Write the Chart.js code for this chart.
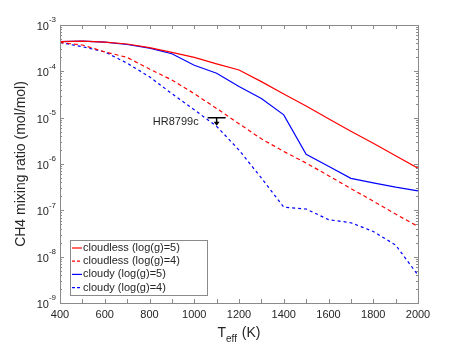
<!DOCTYPE html>
<html>
<head>
<meta charset="utf-8">
<script src="https://cdn.jsdelivr.net/npm/chart.js@4"></script>
<style>
html,body{margin:0;padding:0;background:#fff;}
canvas{display:block;}
</style>
</head>
<body>
<canvas id="c" width="463" height="345"></canvas>
<script>
// ---- data ----
const tempK = [400,500,600,700,800,900,1000,1100,1200,1300,1400,1500,1600,1700,1800,1900,2000];
const cloudlessG5 = [4.37e-4,4.47e-4,4.27e-4,3.89e-4,3.24e-4,2.57e-4,2.0e-4,1.45e-4,1.07e-4,6.0e-5,3.24e-5,1.78e-5,9.5e-6,5.1e-6,2.8e-6,1.5e-6,8.1e-7];
const cloudlessG4 = [4.17e-4,3.7e-4,2.63e-4,2.0e-4,1.12e-4,6.5e-5,3.3e-5,1.58e-5,7.4e-6,3.5e-6,1.86e-6,1.05e-6,5.6e-7,2.95e-7,1.58e-7,8.3e-8,4.5e-8];
const cloudyG5 = [4.37e-4,4.47e-4,4.27e-4,3.8e-4,3.16e-4,2.4e-4,1.35e-4,9.1e-5,4.7e-5,2.6e-5,1.15e-5,1.62e-6,8.9e-7,4.9e-7,3.9e-7,3.16e-7,2.63e-7];
const cloudyG4 = [4.17e-4,3.4e-4,2.63e-4,1.5e-4,7.6e-5,3.3e-5,1.48e-5,6.5e-6,2.0e-6,5.0e-7,1.17e-7,1.07e-7,6.3e-8,5.4e-8,3.5e-8,1.78e-8,4.0e-9];
const seriesLabels = ['cloudless (log(g)=5)','cloudless (log(g)=4)','cloudy (log(g)=5)','cloudy (log(g)=4)'];
const xTickLabels = [400,600,800,1000,1200,1400,1600,1800,2000];
const xMinorTicks = [400,500,600,700,800,900,1000,1100,1200,1300,1400,1500,1600,1700,1800,1900,2000];
const yDecadeExponents = [-9,-8,-7,-6,-5,-4,-3];
const hrName = 'HR8799c';
const hrTeff = 1100;
const hrUpperLimit = 1e-5;

const FONT = '"Liberation Sans", Arial, Helvetica, sans-serif';
const TXT = '#262626';
const AXC = '#8a8a8a';

function pts(arr){ return tempK.map((t,i)=>({x:t,y:arr[i]})); }

const styles = [
  {c:'#ff0000', d:[]},
  {c:'#ff0000', d:[4,3]},
  {c:'#0000ff', d:[]},
  {c:'#0000ff', d:[3,3]}
];
const dataArrs = [cloudlessG5, cloudlessG4, cloudyG5, cloudyG4];

const decor = {
  id:'decor',
  afterDraw(chart){
    const ctx = chart.ctx, xs = chart.scales.x, ys = chart.scales.y, a = chart.chartArea;
    ctx.save();
    // frame
    ctx.strokeStyle = AXC; ctx.lineWidth = 1; ctx.setLineDash([]);
    ctx.strokeRect(Math.round(a.left)+0.5, Math.round(a.top)+0.5, Math.round(a.right-a.left), Math.round(a.bottom-a.top));
    // x ticks (inward, top and bottom)
    ctx.beginPath();
    xMinorTicks.forEach(v=>{
      const px = Math.round(xs.getPixelForValue(v))+0.5;
      ctx.moveTo(px, a.bottom); ctx.lineTo(px, a.bottom-4);
      ctx.moveTo(px, a.top); ctx.lineTo(px, a.top+4);
    });
    // y ticks (log, inward left and right)
    yDecadeExponents.forEach((e,i)=>{
      const py = Math.round(ys.getPixelForValue(Math.pow(10,e)))+0.5;
      ctx.moveTo(a.left, py); ctx.lineTo(a.left+4, py);
      ctx.moveTo(a.right, py); ctx.lineTo(a.right-4, py);
      if (i < yDecadeExponents.length-1){
        for (let m=2;m<=9;m++){
          const pm = Math.round(ys.getPixelForValue(m*Math.pow(10,e)))+0.5;
          ctx.moveTo(a.left, pm); ctx.lineTo(a.left+2, pm);
          ctx.moveTo(a.right, pm); ctx.lineTo(a.right-2, pm);
        }
      }
    });
    ctx.stroke();
    // x tick labels
    ctx.fillStyle = TXT;
    ctx.font = '11px ' + FONT;
    ctx.textAlign = 'center'; ctx.textBaseline = 'middle';
    xTickLabels.forEach(v=>{
      ctx.fillText(String(v), xs.getPixelForValue(v), a.bottom+12);
    });
    // y tick labels 10^e
    yDecadeExponents.forEach(e=>{
      const py = ys.getPixelForValue(Math.pow(10,e));
      ctx.font = '8px ' + FONT;
      const sup = '-' + Math.abs(e);
      const sw = ctx.measureText(sup).width;
      const xr = a.left - 4;
      ctx.textAlign = 'left'; ctx.textBaseline = 'middle';
      ctx.fillText(sup, xr - sw, py - 5);
      ctx.font = '11px ' + FONT;
      ctx.textAlign = 'right';
      ctx.fillText('10', xr - sw, py + 2);
    });
    // x title T_eff (K)
    ctx.textBaseline = 'alphabetic'; ctx.textAlign = 'left';
    ctx.font = '14px ' + FONT;
    const tW = ctx.measureText('T').width;
    ctx.font = '10px ' + FONT;
    const sW = ctx.measureText('eff').width;
    ctx.font = '14px ' + FONT;
    const kW = ctx.measureText(' (K)').width;
    const total = tW + sW + kW + 1;
    let x0 = (a.left + a.right)/2 - total/2;
    ctx.fillText('T', x0, 337);
    ctx.font = '10px ' + FONT;
    ctx.fillText('eff', x0 + tW, 342);
    ctx.font = '14px ' + FONT;
    ctx.fillText(' (K)', x0 + tW + sW + 1, 337);
    // y title
    ctx.save();
    ctx.translate(21, (a.top + a.bottom)/2);
    ctx.rotate(-Math.PI/2);
    ctx.textAlign = 'center'; ctx.textBaseline = 'middle';
    ctx.font = '14px ' + FONT;
    ctx.fillText('CH4 mixing ratio (mol/mol)', 0, 0);
    ctx.restore();
    // HR8799c upper limit marker
    const hx = xs.getPixelForValue(hrTeff), hy = ys.getPixelForValue(hrUpperLimit);
    ctx.strokeStyle = '#000'; ctx.fillStyle = '#000'; ctx.lineWidth = 1.5;
    ctx.beginPath();
    ctx.moveTo(hx-9, hy); ctx.lineTo(hx+9, hy);
    ctx.moveTo(hx, hy); ctx.lineTo(hx, hy+5);
    ctx.stroke();
    ctx.beginPath();
    ctx.moveTo(hx-3, hy+4); ctx.lineTo(hx+3, hy+4); ctx.lineTo(hx, hy+8); ctx.closePath();
    ctx.fill();
    ctx.fillStyle = TXT;
    ctx.font = '11px ' + FONT;
    ctx.textAlign = 'right'; ctx.textBaseline = 'middle';
    ctx.fillText(hrName, hx - 18, hy + 4);
    // legend
    const lx = a.left + 10, ly = a.bottom - 63, lw = 137, lh = 55;
    ctx.fillStyle = '#fff';
    ctx.fillRect(lx, ly, lw, lh);
    ctx.strokeStyle = AXC; ctx.lineWidth = 1;
    ctx.strokeRect(lx+0.5, ly+0.5, lw, lh);
    seriesLabels.forEach((lab,i)=>{
      const ry = ly + 8 + i*13.2;
      ctx.strokeStyle = styles[i].c; ctx.lineWidth = 1.2;
      ctx.setLineDash(styles[i].d.length ? [3,2] : []);
      ctx.beginPath(); ctx.moveTo(lx+2, ry); ctx.lineTo(lx+12, ry); ctx.stroke();
      ctx.setLineDash([]);
      ctx.fillStyle = TXT; ctx.font = '11px ' + FONT;
      ctx.textAlign = 'left'; ctx.textBaseline = 'middle';
      ctx.fillText(lab, lx + 13, ry);
    });
    ctx.restore();
  }
};

new Chart(document.getElementById('c'), {
  type:'line',
  data:{
    datasets: dataArrs.map((arr,i)=>({
      label: seriesLabels[i],
      data: pts(arr),
      borderColor: styles[i].c,
      borderDash: styles[i].d,
      borderWidth: 1.2,
      pointRadius: 0,
      tension: 0,
      fill: false
    }))
  },
  options:{
    responsive:false,
    animation:false,
    events:[],
    layout:{padding:{left:60,right:45,top:25,bottom:42}},
    plugins:{legend:{display:false}, tooltip:{enabled:false}},
    scales:{
      x:{type:'linear', min:400, max:2000,
         ticks:{display:false}, grid:{display:false}, border:{display:false},
         afterFit(s){ s.height = 0; }},
      y:{type:'logarithmic', min:1e-9, max:1e-3,
         ticks:{display:false}, grid:{display:false}, border:{display:false},
         afterFit(s){ s.width = 0; }}
    }
  },
  plugins:[decor]
});
</script>
</body>
</html>
